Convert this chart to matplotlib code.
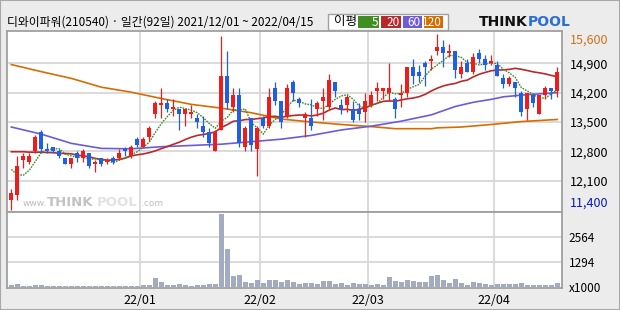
import numpy as np
import pandas as pd
import matplotlib
matplotlib.use('Agg')
import matplotlib.pyplot as plt
from matplotlib.patches import Rectangle

plt.rcParams['font.family'] = ['Noto Sans CJK KR', 'DejaVu Sans']

# daily candles 2021/12/01 ~ 2022/04/15 (92 trading days)
opens = [11650, 11750, 12600, 12550, 12800, 13250, 12850, 12900, 12800, 12650,
         12500, 12750, 12650, 12750, 12500, 12650, 12550, 12650, 12650, 12850,
         12700, 13100, 12900, 13150, 13700, 13900, 13950, 13800, 13800, 13700,
         13700, 13600, 13400, 13250, 12800, 13300, 14600, 13850, 14150, 12900,
         13600, 12850, 13600, 13400, 14300, 14000, 13650, 14450, 14050, 13600,
         13600, 13800, 14000, 13850, 14450, 13900, 13900, 13800, 13800, 13750,
         13900, 14250, 14250, 14200, 14050, 14150, 14200, 14800, 14700, 14900,
         14950, 15200, 15300, 15150, 15200, 14650, 14900, 14700, 15150, 15000,
         14900, 14850, 14550, 14400, 14450, 14200, 13800, 14150, 13700, 14150,
         14300, 14250]
highs = [11900, 12700, 12750, 12750, 13200, 13300, 13000, 12900, 12850, 12650,
         12650, 12800, 12850, 12750, 12600, 12650, 12650, 12700, 12850, 12900,
         12950, 13150, 13150, 13400, 14000, 14300, 14050, 14050, 13800, 13800,
         13900, 13700, 13650, 13350, 13300, 15550, 15200, 14300, 14300, 13400,
         13600, 13400, 13650, 14300, 14450, 14000, 14400, 14500, 14100, 13750,
         14050, 14000, 14300, 14650, 14450, 14050, 14150, 14000, 13950, 14200,
         14250, 14450, 14300, 14900, 14100, 14400, 14800, 15000, 14850, 14950,
         15100, 15600, 15450, 15350, 15200, 14950, 15000, 15150, 15250, 15100,
         15100, 14950, 14650, 14600, 14450, 14250, 14200, 14200, 14150, 14350,
         14300, 14800]
lows = [11400, 11650, 12400, 12500, 12750, 12750, 12750, 12750, 12650, 12500,
        12400, 12550, 12550, 12400, 12300, 12450, 12500, 12500, 12600, 12700,
        12650, 12900, 12900, 13050, 13600, 13600, 13750, 13650, 13300, 13400,
        13600, 13350, 13150, 12900, 12800, 13300, 13800, 13750, 12900, 12800,
        12800, 12200, 13350, 13350, 13900, 13350, 13600, 14000, 13850, 13150,
        13300, 13650, 13550, 13800, 14100, 13700, 13750, 13500, 13550, 13500,
        13850, 14000, 14050, 14000, 13600, 13850, 14100, 14400, 14450, 14350,
        14750, 15100, 14800, 15050, 14550, 14550, 14700, 14650, 14900, 14750,
        14850, 14600, 14300, 14350, 14100, 13650, 13550, 13850, 13700, 14050,
        14050, 14100]
closes = [11800, 12450, 12700, 12700, 13150, 12850, 12800, 12800, 12700, 12500,
          12650, 12650, 12800, 12450, 12550, 12500, 12600, 12550, 12750, 12800,
          12900, 12950, 13100, 13350, 13950, 13950, 13800, 13850, 13700, 13800,
          13750, 13500, 13250, 13000, 13250, 14600, 13950, 14150, 13000, 13350,
          12950, 13350, 13400, 14100, 14000, 13500, 14300, 14200, 13950, 13700,
          13400, 13950, 14100, 14500, 14250, 13800, 14100, 13550, 13700, 14000,
          14150, 14300, 14300, 14300, 13800, 14200, 14800, 14600, 14600, 14800,
          15000, 15300, 15150, 15200, 14750, 14800, 14700, 15050, 15000, 14850,
          14950, 14600, 14400, 14550, 14300, 13750, 14200, 13950, 14150, 14300,
          14250, 14700]
volumes = [110, 160, 60, 60, 110, 110, 60, 60, 60, 60,
           60, 60, 60, 60, 60, 60, 60, 60, 60, 60,
           60, 60, 110, 110, 470, 265, 110, 110, 160, 110,
           60, 110, 110, 160, 160, 3760, 1960, 575, 630, 265,
           215, 370, 215, 370, 370, 265, 370, 265, 160, 215,
           215, 160, 320, 320, 160, 215, 110, 215, 160, 160,
           110, 160, 110, 525, 320, 265, 370, 320, 265, 265,
           575, 630, 370, 215, 420, 215, 110, 265, 215, 160,
           110, 160, 160, 160, 160, 215, 110, 110, 110, 110,
           110, 215]  # x1000

# moving-average values before the window has enough days
ma5_head = [12370, 12240, 12230, 12350]
ma20_head = [12790, 12790, 12790, 12780, 12780, 12780, 12770, 12770, 12750, 12750,
             12740, 12710, 12690, 12670, 12630, 12610, 12590, 12590, 12610]
ma60_idx = [0, 5, 10, 15, 20, 25, 30, 35, 40, 45, 50, 55, 60, 65, 70, 74, 77, 80, 82, 85, 88, 91]
ma60_val = [13380, 13210, 12990, 12870, 12860, 12910, 12940, 12970, 13030, 13090, 13180,
            13310, 13400, 13520, 13670, 13870, 13970, 14040, 14100, 14140, 14170, 14200]
ma120_idx = [0, 5, 10, 15, 20, 25, 30, 35, 40, 45, 50, 55, 60, 64, 70, 71, 75, 80, 85, 91]
ma120_val = [14870, 14700, 14540, 14330, 14210, 14060, 13920, 13830, 13720, 13570, 13500,
             13440, 13390, 13340, 13340, 13360, 13380, 13440, 13510, 13560]

month_idx = [22, 42, 60, 81]
month_labels = ['22/01', '22/02', '22/03', '22/04']
price_ticks = [11400, 12100, 12800, 13500, 14200, 14900, 15600]
vol_ticks = [0, 1294, 2564]
vol_labels = ['x1000', '1294', '2564']

RED = '#f01c1c'
BLUE = '#1f5ee6'
C5, C20, C60, C120 = '#3f8d23', '#b7292b', '#6d5bd8', '#d86c00'

W, H = 620, 310


def fx(p):
	return p / W


def fy(p):
	return 1 - p / H


fig = plt.figure(figsize=(6.2, 3.1), dpi=100)
fig.patch.set_facecolor('#ececec')
fig.add_artist(Rectangle((0, 0), 1, 1, transform=fig.transFigure, fill=False,
                         edgecolor='#a8a8a8', linewidth=1.5))

ax = fig.add_axes([fx(7), fy(212), fx(562) - fx(7), fy(31) - fy(212)])
axv = fig.add_axes([fx(7), fy(288), fx(562) - fx(7), fy(212) - fy(288)], sharex=ax)

n = len(closes)
idx = np.arange(n)
o = np.array(opens)
c = np.array(closes)
cs = pd.Series(closes)
ma5 = cs.rolling(5).mean().to_numpy()
ma5[:4] = ma5_head
ma20 = cs.rolling(20).mean().to_numpy()
ma20[:19] = ma20_head

for a in (ax, axv):
	for m in month_idx:
		a.axvline(m - 0.5, color='#d8d8d8', lw=1.3, zorder=0)
	for s in a.spines.values():
		s.set_color('#a0a0a0')
		s.set_linewidth(1.3)
	a.set_facecolor('white')

for p in price_ticks[1:-1]:
	ax.axhline(p, color='#d8d8d8', lw=1.3, zorder=0)
for v in vol_ticks[1:]:
	axv.axhline(v, color='#d8d8d8', lw=1.3, zorder=0)

# moving averages
ax.plot(ma120_idx, ma120_val, color=C120, lw=1.2, zorder=2)
ax.plot(ma60_idx, ma60_val, color=C60, lw=1.2, zorder=2)
ax.plot(idx, ma20, color=C20, lw=1.2, zorder=2)
ax.plot(idx, ma5, color=C5, lw=1.0, ls=(0, (1.2, 0.8)), zorder=2)

# candles
cols = np.where(c >= o, RED, BLUE)
ax.vlines(idx, lows, highs, colors=cols, lw=0.9, zorder=3)
body_bot = np.minimum(o, c)
body_h = np.maximum(np.abs(c - o), 25)
ax.bar(idx, body_h, bottom=body_bot, width=0.72, color=cols, linewidth=0, zorder=4)

ax.set_xlim(-0.72, 91.78)
ax.set_ylim(11353, 15670)
ax.yaxis.tick_right()
ax.set_yticks(price_ticks)
ax.set_yticklabels([f'{p:,}' for p in price_ticks], fontsize=9)
ax.tick_params(axis='y', length=0, pad=6)
ax.tick_params(axis='x', length=0, labelbottom=False)
ylbl = ax.get_yticklabels()
ylbl[0].set_color('#0a18c8')
ylbl[0].set_va('bottom')
ylbl[-1].set_color('#d2701a')
ylbl[-1].set_va('top')

# watermark
fig.text(fx(23), fy(206), 'www.', fontsize=6.5, color='#bdbdbd', va='baseline', family='DejaVu Sans')
fig.text(fx(47), fy(206), 'THINK', fontsize=9.5, color='#c2c2c2', va='baseline', weight='bold', family='DejaVu Sans')
fig.text(fx(97), fy(206), 'POOL', fontsize=9.5, color='#e2e2e2', va='baseline', weight='bold', family='DejaVu Sans')
fig.text(fx(141), fy(206), '.com', fontsize=6.5, color='#bdbdbd', va='baseline', family='DejaVu Sans')

# volume
axv.bar(idx, volumes, width=0.82, color='#a3abc3', linewidth=0, zorder=3)
axv.set_ylim(-40, 3850)
axv.yaxis.tick_right()
axv.set_yticks(vol_ticks)
axv.set_yticklabels(vol_labels, fontsize=8.5)
axv.tick_params(axis='y', length=0, pad=5)
axv.set_xticks([m - 0.5 for m in month_idx])
axv.set_xticklabels(month_labels, fontsize=9)
axv.tick_params(axis='x', length=0, pad=4)

# title
fig.text(fx(7), fy(22), '디와이파워(210540) · 일간(92일) 2021/12/01 ~ 2022/04/15',
         fontsize=8.5, va='center', ha='left')

# MA legend box
fig.add_artist(Rectangle((fx(328), fy(29.5)), fx(448) - fx(328), fy(14.5) - fy(29.5),
                         transform=fig.transFigure, facecolor='white', edgecolor='#a0a0a0', lw=1))
fig.text(fx(334), fy(22), '이평', fontsize=9, va='center', ha='left')
boxes = [(358, 379, C5, '5'), (381, 401, C20, '20'), (403, 422, C60, '60'), (424, 443, C120, '120')]
for x0, x1, col, lab in boxes:
	fig.add_artist(Rectangle((fx(x0), fy(28)), fx(x1) - fx(x0), fy(16) - fy(28),
	                         transform=fig.transFigure, facecolor=col, edgecolor='none'))
	fig.text(fx(x1 - 1), fy(22), lab, fontsize=8.5, color='white', va='center', ha='right')

# logo
fig.text(fx(528), fy(22.5), 'THINK', fontsize=10, weight='bold', color='#111111',
         va='center', ha='right', family='DejaVu Sans')
fig.text(fx(528), fy(22.5), 'POOL', fontsize=10, weight='bold', color='#2a6fd8',
         va='center', ha='left', family='DejaVu Sans')

fig.savefig('out.png', dpi=100, facecolor=fig.get_facecolor())
